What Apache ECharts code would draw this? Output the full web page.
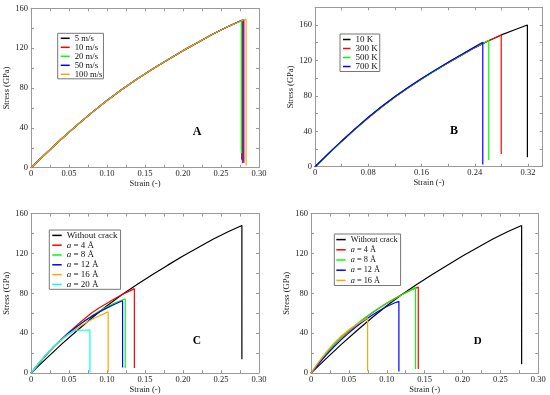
<!DOCTYPE html>
<html><head><meta charset="utf-8">
<script src="https://cdn.jsdelivr.net/npm/echarts@6/dist/echarts.min.js"></script>
<style>html,body{margin:0;padding:0;background:#fff}#c{width:550px;height:395px}</style>
</head><body><div id="c"></div>
<script>
// ---------- DATA (strain, stress GPa) ----------
// Panel A: strain-rate effect
const A_5ms   = [[0,0],[0.02,14.5],[0.04,28.8],[0.06,42.3],[0.08,55.3],[0.10,67.5],[0.12,78.8],[0.14,89.2],[0.16,99],[0.18,108.3],[0.20,117.5],[0.22,126],[0.24,134.5],[0.26,142],[0.2775,148],[0.2775,8]];
const A_10ms  = [[0,0],[0.02,14.5],[0.04,28.8],[0.06,42.3],[0.08,55.3],[0.10,67.5],[0.12,78.8],[0.14,89.2],[0.16,99],[0.18,108.3],[0.20,117.5],[0.22,126],[0.24,134.5],[0.26,142],[0.2782,148.2],[0.2782,4.4]];
const A_20ms  = [[0,0],[0.02,14.5],[0.04,28.8],[0.06,42.3],[0.08,55.3],[0.10,67.5],[0.12,78.8],[0.14,89.2],[0.16,99],[0.18,108.3],[0.20,117.5],[0.22,126],[0.24,134.5],[0.26,142],[0.2768,147.8],[0.2768,14.4]];
const A_50ms  = [[0,0],[0.02,14.5],[0.04,28.8],[0.06,42.3],[0.08,55.3],[0.10,67.5],[0.12,78.8],[0.14,89.2],[0.16,99],[0.18,108.3],[0.20,117.5],[0.22,126],[0.24,134.5],[0.26,142],[0.2800,148.5],[0.2800,5]];
const A_100ms = [[0,0],[0.02,14.5],[0.04,28.8],[0.06,42.3],[0.08,55.3],[0.10,67.5],[0.12,78.8],[0.14,89.2],[0.16,99],[0.18,108.3],[0.20,117.5],[0.22,126],[0.24,134.5],[0.26,142],[0.2830,149.2],[0.2830,2]];
// Panel B: temperature effect
const B_10K  = [[0,0],[0.02,14.5],[0.04,28.8],[0.06,42.3],[0.08,55.3],[0.10,67.5],[0.12,78.8],[0.14,89.2],[0.16,99],[0.18,108.3],[0.20,117.5],[0.22,126],[0.24,134.5],[0.26,142],[0.28,148.8],[0.30,154.6],[0.319,160],[0.319,10.6]];
const B_300K = [[0,0],[0.02,14.5],[0.04,28.8],[0.06,42.3],[0.08,55.3],[0.10,67.5],[0.12,78.8],[0.14,89.2],[0.16,99],[0.18,108.3],[0.20,117.5],[0.22,126],[0.24,134.5],[0.26,142],[0.2797,148.7],[0.2797,14.3]];
const B_500K = [[0,0],[0.02,14.6],[0.04,28.9],[0.06,42.5],[0.08,55.5],[0.10,67.7],[0.12,79],[0.14,89.4],[0.16,99.2],[0.18,108.5],[0.20,117.7],[0.22,126.3],[0.24,134.8],[0.261,142.8],[0.261,7.6]];
const B_700K = [[0,0],[0.02,14.7],[0.04,29.1],[0.06,42.7],[0.08,55.8],[0.10,68],[0.12,79.3],[0.14,89.7],[0.16,99.5],[0.18,108.8],[0.20,118],[0.22,126.6],[0.24,135.3],[0.252,140.5],[0.252,2.5]];
// Panel C: crack length (series 1)
const C_none = [[0,0],[0.02,14.5],[0.04,28.8],[0.06,42.3],[0.08,55.3],[0.10,67.5],[0.12,78.8],[0.14,89.2],[0.16,99],[0.18,108.3],[0.20,117.5],[0.22,126],[0.24,134.5],[0.26,142],[0.2775,148],[0.2775,14]];
const C_a4  = [[0,0],[0.01,9.5],[0.02,18.5],[0.03,26.5],[0.04,34],[0.05,41],[0.06,47.8],[0.07,54.3],[0.08,60.5],[0.09,65.5],[0.10,70],[0.11,74.5],[0.12,78.8],[0.13,82.5],[0.136,84.7],[0.136,5]];
const C_a8  = [[0,0],[0.01,9.3],[0.02,18.2],[0.03,26.2],[0.04,33.6],[0.05,40.3],[0.06,46.5],[0.07,52.2],[0.08,57.5],[0.09,62.3],[0.10,66.6],[0.11,70.3],[0.12,73.3],[0.124,74.3],[0.124,5]];
const C_a12 = [[0,0],[0.01,9.4],[0.02,18.3],[0.03,26.4],[0.04,33.8],[0.05,40.4],[0.06,46.4],[0.07,51.9],[0.08,56.9],[0.09,61.4],[0.10,65.4],[0.11,69],[0.115,70.8],[0.1205,72.6],[0.1205,5.7]];
const C_a16 = [[0,0],[0.01,9.6],[0.02,18.5],[0.03,26.3],[0.04,33.2],[0.05,39.3],[0.06,44.7],[0.07,49.5],[0.08,53.8],[0.09,57.5],[0.095,59.2],[0.1015,61.6],[0.1015,1]];
const C_a20 = [[0,0],[0.01,9.8],[0.02,19],[0.03,27],[0.04,33.8],[0.05,39.5],[0.055,41.8],[0.06,43],[0.0775,43.2],[0.0775,0.5]];
// Panel D: crack length (series 2)
const D_none = [[0,0],[0.02,14.5],[0.04,28.8],[0.06,42.3],[0.08,55.3],[0.10,67.5],[0.12,78.8],[0.14,89.2],[0.16,99],[0.18,108.3],[0.20,117.5],[0.22,126],[0.24,134.5],[0.26,142],[0.278,148],[0.278,9]];
const D_a4  = [[0,0],[0.01,10],[0.02,19.5],[0.03,28],[0.04,35.5],[0.05,42.3],[0.06,48.6],[0.07,54.5],[0.08,60],[0.09,65.2],[0.10,70],[0.11,74.5],[0.12,78.8],[0.13,82.8],[0.1416,86.3],[0.1416,4]];
const D_a8  = [[0,0],[0.01,10.2],[0.02,19.8],[0.03,28.4],[0.04,36],[0.05,42.8],[0.06,49],[0.07,54.8],[0.08,60.2],[0.09,65.3],[0.10,70],[0.11,74.4],[0.12,78.6],[0.13,82.5],[0.138,86],[0.138,4]];
const D_a12 = [[0,0],[0.01,9.2],[0.02,18],[0.03,26.2],[0.04,33.6],[0.05,40.4],[0.06,46.7],[0.07,52.5],[0.08,57.8],[0.09,62.6],[0.10,66.8],[0.11,70.3],[0.116,72],[0.116,1.7]];
const D_a16 = [[0,0],[0.01,11],[0.02,21],[0.03,29.8],[0.04,37.2],[0.05,43.5],[0.06,48.8],[0.07,53.3],[0.0747,55],[0.0747,2]];

const namesA = ['5 m/s','10 m/s','20 m/s','50 m/s','100 m/s'];
const namesB = ['10 K','300 K','500 K','700 K'];
const namesC = ['Without crack','a = 4 Å','a = 8 Å','a = 12 Å','a = 16 Å','a = 20 Å'];
const namesD = ['Without crack','a = 4 Å','a = 8 Å','a = 12 Å','a = 16 Å'];
const xTickStep = [0.025, 0.04, 0.025, 0.025];
const xMax = [0.30, 0.342, 0.30, 0.30];
const yMax = [160, 180, 160, 160];
const panelLetters = ['A','B','C','D'];

// ---------- STYLE ----------
const F = 'Liberation Serif';
const AX = '#9a9a9a';
const colors6 = ['#000000','#ff0000','#00ff00','#0000ff','#ffa500','#00ffff'];
const grids = [
  {left:31, top:8.3, width:228, height:159.4},
  {left:315, top:7.3, width:227.7, height:159.4},
  {left:31, top:213.6, width:228, height:159.7},
  {left:311, top:213.6, width:227.3, height:159.7}
];
const yNameGap = [17, 19, 16, 17];
const xNameGap = [11, 11, 10, 10];

const xAxis = [], yAxis = [];
for (let i = 0; i < 4; i++) {
  const st = xTickStep[i];
  const common = {
    gridIndex: i, type: 'value', min: 0,
    axisLine: {onZero: false, lineStyle: {color: AX, width: 1}},
    axisTick: {inside: true, length: 3, lineStyle: {color: AX}},
    splitLine: {show: false}
  };
  xAxis.push(Object.assign({}, common, {
    position: 'bottom', max: xMax[i], interval: st,
    name: 'Strain (-)', nameLocation: 'middle', nameGap: xNameGap[i],
    nameTextStyle: {fontFamily: F, fontSize: 8.5, color: '#222'},
    axisLabel: {fontFamily: F, fontSize: 8.5, color: '#222', margin: 2,
      formatter: v => (Math.abs(v / st - Math.round(v / st)) < 1e-6 && Math.round(v / st) % 2 === 0) ? (v === 0 ? '0' : v.toFixed(2)) : ''}
  }));
  xAxis.push(Object.assign({}, common, {position: 'top', max: xMax[i], interval: st, axisLabel: {show: false}}));
  yAxis.push(Object.assign({}, common, {
    position: 'left', max: yMax[i], interval: 20,
    name: 'Stress (GPa)', nameLocation: 'middle', nameGap: yNameGap[i],
    nameTextStyle: {fontFamily: F, fontSize: 8.5, color: '#222'},
    axisLabel: {fontFamily: F, fontSize: 8.5, color: '#222', margin: 3,
      formatter: v => (Math.round(v / 20) % 2 === 0) ? String(v) : ''}
  }));
  yAxis.push(Object.assign({}, common, {position: 'right', max: yMax[i], interval: 20, axisLabel: {show: false}}));
}

const series = [];
function addSeries(gi, names, datas) {
  names.forEach((n, k) => {
    series.push({
      type: 'line', name: n, xAxisIndex: gi * 2, yAxisIndex: gi * 2,
      data: datas[k], showSymbol: false, symbol: 'none',
      lineStyle: {width: 1.2, color: colors6[k]}, itemStyle: {color: colors6[k]},
      animation: false, z: 2 + k
    });
  });
}
addSeries(0, namesA, [A_5ms, A_10ms, A_20ms, A_50ms, A_100ms]);
addSeries(1, namesB, [B_10K, B_300K, B_500K, B_700K]);
addSeries(2, namesC, [C_none, C_a4, C_a8, C_a12, C_a16, C_a20]);
addSeries(3, namesD, [D_none, D_a4, D_a8, D_a12, D_a16]);

function mkLegend(names, left, top, fs, lh, pad, iw) {
  return {
    data: names, orient: 'vertical', left: left, top: top,
    padding: pad, itemGap: 0, itemWidth: iw, itemHeight: 1.5, icon: 'rect',
    borderColor: '#777', borderWidth: 1, backgroundColor: '#fff', borderRadius: 0,
    selectedMode: false,
    textStyle: {fontFamily: F, fontSize: fs, lineHeight: lh, color: '#111',
      rich: {i: {fontFamily: F, fontSize: fs, lineHeight: lh, fontStyle: 'italic', color: '#111'}}},
    formatter: n => n.indexOf('a = ') === 0 ? '{i|a}' + n.slice(1) : n
  };
}
const legend = [
  mkLegend(namesA, 57.7, 33.3, 8.7, 8.4, [0.5, 1, 0, 3], 9),
  mkLegend(namesB, 340, 34, 9, 8.6, [1, 2, 0.5, 3], 7.5),
  mkLegend(namesC, 49.3, 230, 9, 9.8, [0.5, 3, 0, 3], 9.4),
  mkLegend(namesD, 334.3, 234, 8.3, 10.2, [0.5, 3, 0, 2], 9.4)
];

const letterPos = [[197, 131.7, 12], [454, 131, 12], [197, 340.7, 11.5], [477.7, 340.7, 11]];
const graphic = panelLetters.map((t, i) => ({
  type: 'text', x: letterPos[i][0], y: letterPos[i][1],
  style: {text: t, fontFamily: F, fontWeight: 'bold', fontSize: letterPos[i][2], fill: '#000',
    textAlign: 'center', textVerticalAlign: 'middle'}
}));

const chart = echarts.init(document.getElementById('c'), null, {renderer: 'canvas'});
chart.setOption({
  animation: false, backgroundColor: '#fff',
  grid: grids, xAxis: xAxis, yAxis: yAxis, series: series, legend: legend, graphic: graphic
});
</script></body></html>
